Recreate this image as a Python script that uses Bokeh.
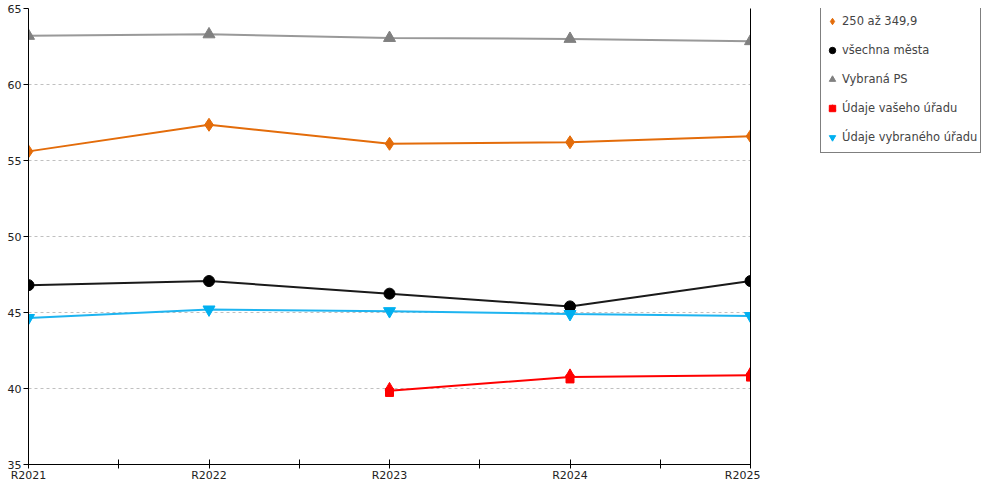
import numpy as np
from bokeh.plotting import figure
from bokeh.layouts import row
from bokeh.models import Legend, LegendItem, LinearAxis, FixedTicker, Range1d, ColumnDataSource
from bokeh.transform import dodge
from bokeh.embed import file_html
from bokeh.resources import INLINE

years = ["R2021", "R2022", "R2023", "R2024", "R2025"]
s_250 = [55.6, 57.35, 56.1, 56.2, 56.6]
s_mesta = [46.8, 47.07, 46.24, 45.4, 47.07]
s_ps = [63.2, 63.3, 63.06, 63.0, 62.85]
s_vas = [np.nan, np.nan, 39.86, 40.75, 40.87]
s_vybr = [44.64, 45.2, 45.09, 44.9, 44.77]
names = ["250 až 349,9", "všechna města", "Vybraná PS", "Údaje vašeho úřadu", "Údaje vybraného úřadu"]
y_ticks = [35, 40, 45, 50, 55, 60, 65]

x = list(range(len(years)))
FONT = "DejaVu Sans"
H = 484

p = figure(width=760, height=H, output_backend="svg", toolbar_location=None,
           x_range=Range1d(0, 4), y_range=Range1d(35, 65),
           min_border_left=28, min_border_top=8, min_border_right=10, min_border_bottom=10)
p.outline_line_color = None
p.xgrid.grid_line_color = None
p.ygrid.grid_line_color = "#c0c0c0"
p.ygrid.grid_line_dash = "3 3"
p.ygrid.ticker = FixedTicker(ticks=y_ticks)

p.yaxis.ticker = FixedTicker(ticks=y_ticks)
p.yaxis.minor_tick_line_color = None
p.yaxis.major_tick_in = 0
p.yaxis.major_tick_out = 5
p.yaxis.major_label_standoff = 2
p.yaxis.axis_line_color = "black"
p.yaxis.major_tick_line_color = "black"

p.xaxis.ticker = FixedTicker(ticks=x, minor_ticks=[0.5, 1.5, 2.5, 3.5])
p.xaxis.major_label_overrides = {i: years[i] for i in x}
p.xaxis.major_tick_in = 5
p.xaxis.major_tick_out = 4
p.xaxis.minor_tick_in = 5
p.xaxis.minor_tick_out = 4
p.xaxis.minor_tick_line_color = "black"
p.xaxis.major_label_standoff = 0
p.xaxis.axis_line_color = "black"
p.xaxis.major_tick_line_color = "black"

for ax in (p.xaxis, p.yaxis):
    ax.major_label_text_font = FONT
    ax.major_label_text_font_size = "11px"
    ax.major_label_text_color = "#222222"

right = LinearAxis(ticker=FixedTicker(ticks=[]), major_tick_line_color=None,
                   minor_tick_line_color=None, axis_line_color="black")
p.add_layout(right, "right")

src_vas = ColumnDataSource(dict(x=x, y=s_vas))

p.line(x, s_250, line_color="#E36C0A", line_width=2)
p.scatter(x, s_250, marker="diamond", size=13, fill_color="#E36C0A", line_color="#E36C0A")
p.line(x, s_mesta, line_color="#1a1a1a", line_width=2)
p.scatter(x, s_mesta, marker="circle", size=11, fill_color="black", line_color="black")
p.line(x, s_ps, line_color="#999999", line_width=2)
p.scatter(x, s_ps, marker="triangle", size=12, fill_color="#808080", line_color="#808080")
p.line(x, s_vas, line_color="#FF0000", line_width=2)
p.scatter(x="x", y=dodge("y", -0.12), source=src_vas, marker="square", size=8,
          fill_color="#FF0000", line_color="#FF0000")
p.scatter(x="x", y=dodge("y", 0.2), source=src_vas, marker="triangle", size=9,
          fill_color="#FF0000", line_color="#FF0000")
p.line(x, s_vybr, line_color="#1EB4F0", line_width=2)
p.scatter(x, s_vybr, marker="inverted_triangle", size=12, fill_color="#00B0F0", line_color="#00B0F0")

# legend panel (legend-only renderers hold no visible points)
lf = figure(width=224, height=H, output_backend="svg", toolbar_location=None,
            x_range=Range1d(0, 1), y_range=Range1d(0, 1), x_axis_type=None, y_axis_type=None,
            min_border=0)
lf.outline_line_color = None
lf.grid.grid_line_color = None
styles = [("diamond", "#E36C0A"), ("circle", "black"), ("triangle", "#808080"),
          ("house", "#FF0000"), ("inverted_triangle", "#00B0F0")]
items = []
for name, (mk, col) in zip(names, styles):
    if mk == "house":
        ra = lf.scatter(x="x", y="y", source=ColumnDataSource(dict(x=[np.nan], y=[np.nan])),
                        marker="square", fill_color=col, line_color=col)
        rb = lf.scatter(x="x", y="y", source=ColumnDataSource(dict(x=[np.nan], y=[np.nan])),
                        marker="triangle", fill_color=col, line_color=col)
        items.append(LegendItem(label=name, renderers=[ra, rb]))
    else:
        r = lf.scatter(x="x", y="y", source=ColumnDataSource(dict(x=[np.nan], y=[np.nan])),
                       marker=mk, fill_color=col, line_color=col)
        items.append(LegendItem(label=name, renderers=[r]))

legend = Legend(items=items, location=(60, H - 146 - 27), orientation="vertical",
                label_text_font=FONT, label_text_font_size="11.5px",
                border_line_color="black", border_line_width=1,
                glyph_width=16, glyph_height=24, label_standoff=2,
                spacing=5, padding=3, margin=0, label_height=18,
                background_fill_alpha=1)
lf.add_layout(legend, "center")

layout = row(p, lf, spacing=0)
open("out.html", "w").write(file_html(layout, INLINE))
